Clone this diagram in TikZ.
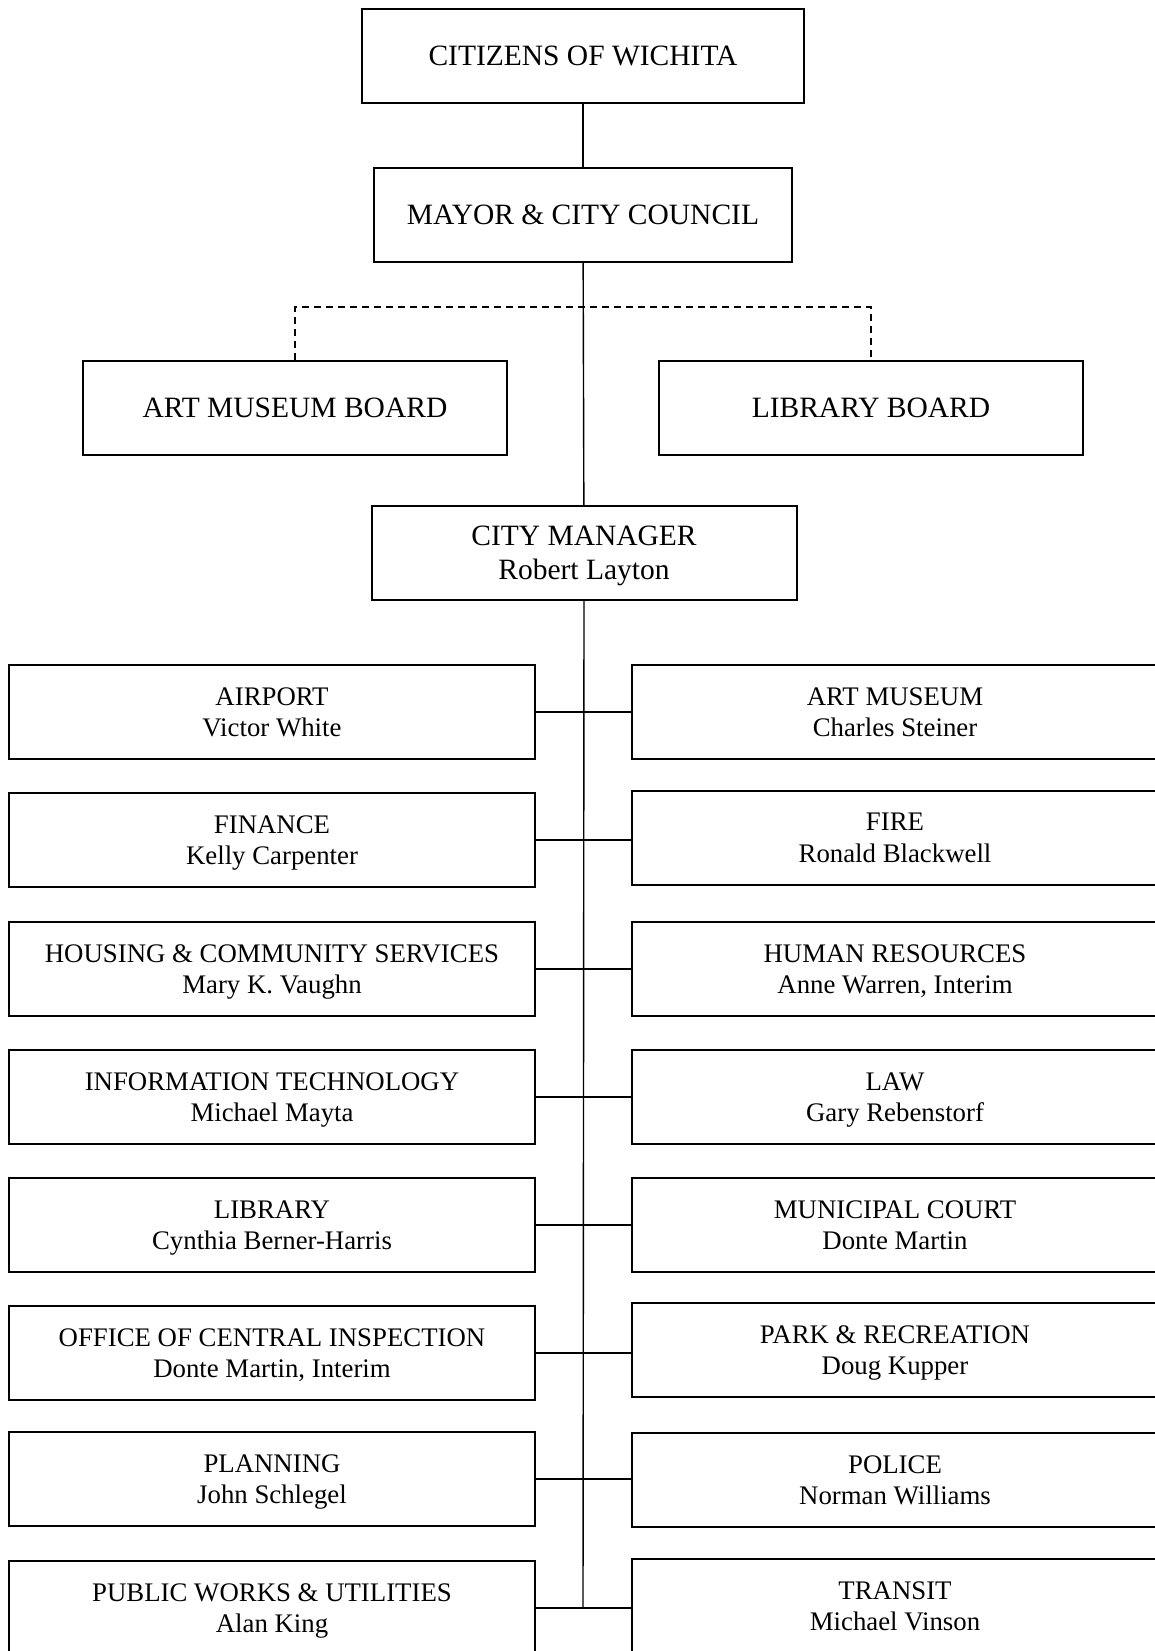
\documentclass[tikz,border=0pt]{standalone}
\usepackage{fontspec}
\setmainfont{Liberation Serif}
\tikzset{
  orgbox/.style={draw,line width=2pt,align=center,inner sep=0pt,text depth=0pt,
    minimum height=94pt,font=\fontsize{29.5}{33.7}\selectfont},
  deptbox/.style={orgbox,minimum width=526pt,font=\fontsize{26.8}{31.6}\selectfont},
  link/.style={line width=1.4pt},
  dotlink/.style={line width=1.4pt,dash pattern=on 7pt off 5pt}
}
\begin{document}
\begin{tikzpicture}[x=1pt,y=-1pt]
\clip (0,0) rectangle (1155,1651);
\node[orgbox,minimum width=442pt] (cit) at (583,56) {CITIZENS OF WICHITA};
\node[orgbox,minimum width=418pt] (mayor) at (583,215) {MAYOR \& CITY COUNCIL};
\node[orgbox,minimum width=424pt] (amb) at (295,408) {ART MUSEUM BOARD};
\node[orgbox,minimum width=424pt] (lbb) at (871,408) {LIBRARY BOARD};
\node[orgbox,minimum width=425pt] (cm) at (584,553) {CITY MANAGER\\Robert Layton};
\coordinate (split) at (583,307);
\coordinate (base) at (583,1608);
\draw[link] (cit) -- (mayor);
\draw[link] (mayor) -- (cm);
\draw[dotlink] (amb.north) |- (split) -| (lbb.north);
\draw[link] (cm.south) -- (base);
% departments, left and right
\foreach \n/\yl/\yr/\ltext/\rtext in {
  1/712/712/{AIRPORT\\Victor White}/{ART MUSEUM\\Charles Steiner},
  2/840/838/{FINANCE\\Kelly Carpenter}/{FIRE\\Ronald Blackwell},
  3/969/969/{HOUSING \& COMMUNITY SERVICES\\Mary K. Vaughn}/{HUMAN RESOURCES\\Anne Warren, Interim},
  4/1097/1097/{INFORMATION TECHNOLOGY\\Michael Mayta}/{LAW\\Gary Rebenstorf},
  5/1225/1225/{LIBRARY\\Cynthia Berner-Harris}/{MUNICIPAL COURT\\Donte Martin},
  6/1353/1350/{OFFICE OF CENTRAL INSPECTION\\Donte Martin, Interim}/{PARK \& RECREATION\\Doug Kupper},
  7/1479/1480/{PLANNING\\John Schlegel}/{POLICE\\Norman Williams},
  8/1608/1606/{PUBLIC WORKS \& UTILITIES\\Alan King}/{TRANSIT\\Michael Vinson}}
{
\node[deptbox] (l\n) at (272,\yl) {\ltext};
\node[deptbox] (r\n) at (895,\yr) {\rtext};
\draw[link] (l\n.east) -- (l\n.east -| r\n.west);
}
\end{tikzpicture}
\end{document}
